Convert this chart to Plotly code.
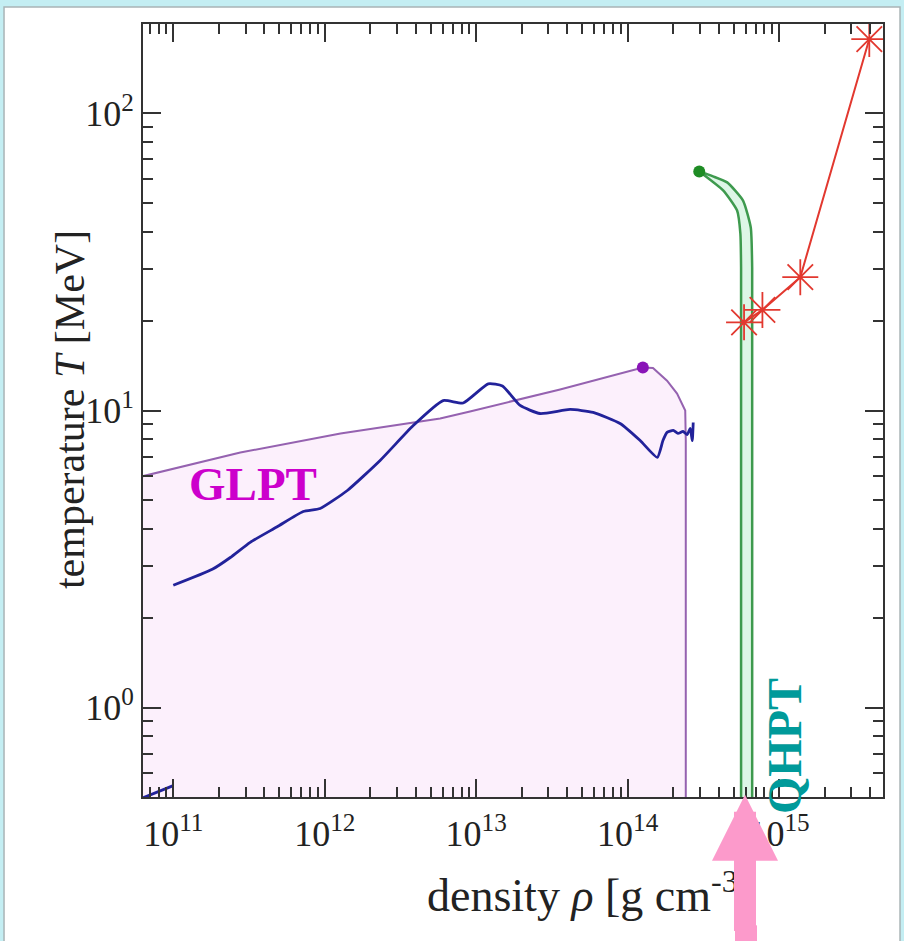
import plotly.graph_objects as go

# ---- phase-boundary data (density in g cm^-3, temperature in MeV) ----
# gas-liquid phase transition boundary (filled region below it)
glpt_rho = [5.8e10, 2.77e11, 1.27e12, 5.78e12, 9.1e12, 3.58e13, 1.26e14,
            1.47e14, 1.82e14, 2.12e14, 2.40e14, 2.42e14, 2.42e14]
glpt_T = [5.95, 7.22, 8.37, 9.40, 9.93, 11.77, 13.96,
          13.9, 12.6, 11.4, 10.0, 7.92, 0.3]
glpt_cp_rho = [1.26e14]
glpt_cp_T = [13.96]

# collapse trajectory
traj_rho = [1.0e11, 1.81e11, 2.38e11, 3.22e11, 4.85e11, 7.21e11, 9.33e11,
            1.41e12, 2.32e12, 3.84e12, 6.05e12, 8.20e12, 1.20e13, 1.49e13,
            1.95e13, 2.64e13, 4.17e13, 5.92e13, 8.91e13, 1.21e14, 1.57e14,
            1.71e14, 1.82e14, 2.00e14, 2.15e14, 2.32e14, 2.47e14, 2.59e14,
            2.67e14, 2.71e14]
traj_T = [2.58, 2.92, 3.20, 3.60, 4.06, 4.57, 4.68,
          5.38, 6.79, 8.90, 10.8, 10.6, 12.3, 12.1,
          10.4, 9.77, 10.08, 9.85, 9.04, 7.92, 6.95,
          7.92, 8.44, 8.57, 8.37, 8.50, 8.30, 8.70,
          7.92, 9.11]
# earlier trajectory piece entering from the lower-left corner
traj2_rho = [6.2e10, 1.0e11]
traj2_T = [0.495, 0.546]

# quark-hadron phase transition band
qhpt_outer_rho = [2.97e14, 3.66e14, 4.54e14, 5.78e14, 6.50e14, 6.64e14, 6.64e14]
qhpt_outer_T = [63.8, 61.4, 58.6, 50.9, 41.3, 30.3, 0.3]
qhpt_inner_rho = [2.97e14, 4.27e14, 5.28e14, 5.55e14, 5.61e14, 5.61e14]
qhpt_inner_T = [63.8, 55.1, 47.1, 39.4, 30.3, 0.3]
qhpt_cp_rho = [2.97e14]
qhpt_cp_T = [63.8]

# red starred sequence
star_rho = [5.87e14, 7.76e14, 1.38e15, 3.94e15]
star_T = [19.8, 21.8, 28.1, 178.0]

# ---- axes ----
x_tickvals = [1e11, 1e12, 1e13, 1e14, 1e15]
x_ticktext = ["10<sup>11</sup>", "10<sup>12</sup>", "10<sup>13</sup>",
              "10<sup>14</sup>", "10<sup>15</sup>"]
y_tickvals = [1, 10, 100]
y_ticktext = ["10<sup>0</sup>", "10<sup>1</sup>", "10<sup>2</sup>"]
x_range_log = [10.80, 15.686]
y_range_log = [-0.301, 2.301]

x_minor = [k * 10 ** d for d in range(10, 16) for k in range(2, 10)]
y_minor = [k * 10 ** d for d in range(-1, 3) for k in range(2, 10)]

SERIF = "Liberation Serif"
AXCOL = "#333333"
PINK = "#FC9ACB"

fig = go.Figure()

# GLPT filled region
fig.add_trace(go.Scatter(
    x=glpt_rho + [glpt_rho[0]], y=glpt_T + [glpt_T[-1]],
    mode="lines", fill="toself", fillcolor="#FCF0FC",
    line=dict(color="#9562B0", width=2), hoverinfo="skip"))

# QHPT band
fig.add_trace(go.Scatter(
    x=qhpt_outer_rho[::-1] + qhpt_inner_rho,
    y=qhpt_outer_T[::-1] + qhpt_inner_T,
    mode="lines", fill="toself", fillcolor="#DDF6E6",
    line=dict(color="#3E9A4E", width=2.5, shape="spline", smoothing=0.5),
    hoverinfo="skip"))

# trajectory
fig.add_trace(go.Scatter(x=traj_rho, y=traj_T, mode="lines",
                         line=dict(color="#22229A", width=2.8,
                                   shape="spline", smoothing=0.5)))
fig.add_trace(go.Scatter(x=traj2_rho, y=traj2_T, mode="lines",
                         line=dict(color="#22229A", width=2.8)))

# starred sequence
fig.add_trace(go.Scatter(
    x=star_rho, y=star_T, mode="lines+markers",
    line=dict(color="#E2382F", width=2),
    marker=dict(symbol="asterisk-open", size=30,
                line=dict(color="#E2382F", width=1.8))))

# critical points
fig.add_trace(go.Scatter(x=glpt_cp_rho, y=glpt_cp_T, mode="markers",
                         marker=dict(color="#8A14B8", size=12)))
fig.add_trace(go.Scatter(x=qhpt_cp_rho, y=qhpt_cp_T, mode="markers",
                         marker=dict(color="#1E8C24", size=12)))

axis_common = dict(
    type="log", showline=True, linecolor=AXCOL, linewidth=2,
    mirror="allticks", ticks="inside", ticklen=18, tickwidth=1.5,
    tickcolor=AXCOL, showgrid=False, zeroline=False,
    tickfont=dict(family=SERIF, size=36, color="#222222"),
)

fig.update_xaxes(range=x_range_log, tickmode="array", tickvals=x_tickvals,
                 ticktext=x_ticktext, ticklabelstandoff=4,
                 minor=dict(tickmode="array", tickvals=x_minor, ticks="inside",
                            ticklen=10, tickwidth=1.5, tickcolor=AXCOL,
                            showgrid=False),
                 **axis_common)
fig.update_yaxes(range=y_range_log, tickmode="array", tickvals=y_tickvals,
                 ticktext=y_ticktext,
                 minor=dict(tickmode="array", tickvals=y_minor, ticks="inside",
                            ticklen=10, tickwidth=1.5, tickcolor=AXCOL,
                            showgrid=False),
                 **axis_common)

# page frame
fig.add_shape(type="rect", xref="paper", yref="paper",
              x0=-0.1878, x1=1.0230, y0=-0.1915, y1=1.022,
              fillcolor="white", line=dict(color="#A9B4B6", width=1.5),
              layer="below")
# lower end of the pointer shaft, running off the page
fig.add_shape(type="rect", xref="paper", yref="paper",
              x0=0.8000, x1=0.8297, y0=-0.205, y1=-0.166,
              fillcolor=PINK, line=dict(width=0), layer="above")

annotations = [
    dict(text="temperature <i>T</i> [MeV]", xref="paper", yref="paper",
         x=-0.1324, y=0.5006, textangle=-90, showarrow=False,
         font=dict(family=SERIF, size=42, color="#222222")),
    dict(text="density <i>ρ</i> [g cm<sup>-3</sup>]", xref="paper", yref="paper",
         x=0.381, y=-0.083, xanchor="left", yanchor="top", showarrow=False,
         font=dict(family=SERIF, size=46, color="#222222")),
    dict(text="<b>GLPT</b>", x=11.528, y=0.754, xref="x", yref="y",
         showarrow=False, font=dict(family=SERIF, size=47, color="#CC00CC")),
    dict(text="<b>QHPT</b>", x=15.035, y=-0.128, xref="x", yref="y",
         textangle=-90, showarrow=False,
         font=dict(family=SERIF, size=48, color="#009A9A")),
    dict(text=" ", xref="paper", yref="paper", x=0.8135, y=0.003,
         ax=0, ay=180, showarrow=True, arrowhead=2, arrowsize=0.6,
         arrowwidth=22, arrowcolor=PINK, standoff=0, startstandoff=0),
]

fig.update_layout(
    width=904, height=941,
    margin=dict(l=143, r=21, t=24, b=144),
    paper_bgcolor="#C4EEF3", plot_bgcolor="white",
    showlegend=False, annotations=annotations,
)

fig.write_html("out.html")
